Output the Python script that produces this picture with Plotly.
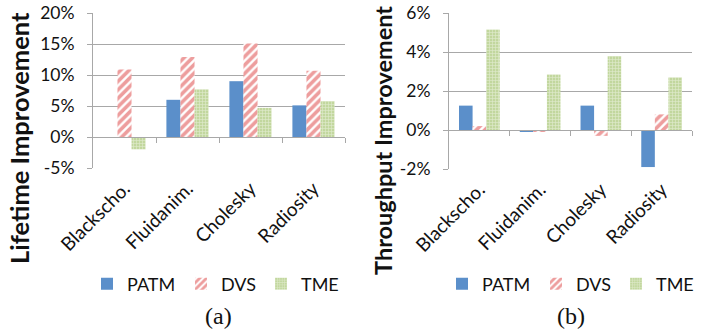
import plotly.graph_objects as go

W, H = 703, 331
categories = ["Blackscho.", "Fluidanim.", "Cholesky", "Radiosity"]
series = ["PATM", "DVS", "TME"]
lifetime_patm = [0.0, 6.0, 9.0, 5.1]
lifetime_dvs = [10.9, 12.9, 15.1, 10.7]
lifetime_tme = [-2.0, 7.7, 4.7, 5.8]
thr_patm = [1.25, -0.1, 1.25, -1.9]
thr_dvs = [0.2, -0.08, -0.3, 0.8]
thr_tme = [5.15, 2.85, 3.8, 2.7]
lifetime_ticks = [-5, 0, 5, 10, 15, 20]
thr_ticks = [-2, 0, 2, 4, 6]

BLUE = "#5b8fca"
RED = "#dc3c3c"
GREEN = "#c2d79e"
GRID = "#a8a8a8"
FONT = "Lato"

def px_x(x):
    return x / W

def px_y(y):
    return (H - y) / H

styles = {
    "PATM": dict(color=BLUE),
    "DVS": dict(color="white", pattern=dict(shape="/", fgcolor=RED, bgcolor="white", size=6, solidity=0.6, fillmode="overlay")),
    "TME": dict(color="white", pattern=dict(shape="+", fgcolor="white", bgcolor=GREEN, size=3, solidity=0.35, fillmode="overlay")),
}
legend_widths = {"PATM": 49, "DVS": 35, "TME": None}

fig = go.Figure()
left = [lifetime_patm, lifetime_dvs, lifetime_tme]
right = [thr_patm, thr_dvs, thr_tme]
for name, vals in zip(series, left):
    fig.add_trace(go.Bar(x=categories, y=vals, name=name, marker=dict(**styles[name], line=dict(width=0)),
                         xaxis="x", yaxis="y", legend="legend", legendwidth=legend_widths[name]))
for name, vals in zip(series, right):
    fig.add_trace(go.Bar(x=categories, y=vals, name=name, marker=dict(**styles[name], line=dict(width=0)),
                         xaxis="x2", yaxis="y2", legend="legend2", legendwidth=legend_widths[name]))

ldom_x = [px_x(93), px_x(345)]
ldom_y = [px_y(168), px_y(13)]
rdom_x = [px_x(449), px_x(692)]
rdom_y = [px_y(169), px_y(13)]
lrange = [-5, 20]
rrange = [-2, 6]

def zero_pos(dom, rng):
    return dom[0] + (0 - rng[0]) / (rng[1] - rng[0]) * (dom[1] - dom[0])

tickfont = dict(family=FONT, size=17.5, color="#111")
catfont = dict(family=FONT, size=19, color="#111")
xcommon = dict(type="category", showline=False, showgrid=False, ticks="outside", ticklen=1,
               tickcolor="rgba(0,0,0,0)", tickangle=-45, tickfont=catfont, range=[-0.5, 3.5],
               automargin=False)
ycommon = dict(showline=True, linecolor=GRID, linewidth=1, showgrid=True, gridcolor=GRID, gridwidth=1,
               zeroline=False, ticks="outside", ticklen=5, tickcolor=GRID,
               tickfont=tickfont, ticklabelstandoff=9, automargin=False)
ovx = dict(type="linear", range=[-0.5, 3.5], showline=True, linecolor=GRID, linewidth=1,
           ticks="outside", ticklen=5, tickcolor=GRID, tickvals=[0.5, 1.5, 2.5, 3.5],
           showticklabels=False, showgrid=False, zeroline=False, anchor="free", side="bottom",
           automargin=False)

legfont = dict(family=FONT, size=18, color="#111")
fig.update_layout(
    width=W, height=H, margin=dict(l=0, r=0, t=0, b=0, autoexpand=False),
    paper_bgcolor="white", plot_bgcolor="white",
    barmode="group", bargap=0.33, bargroupgap=0,
    xaxis=dict(domain=ldom_x, anchor="y", **xcommon),
    yaxis=dict(domain=ldom_y, anchor="x", range=lrange, tickvals=lifetime_ticks,
               ticktext=[f"{v}%" for v in lifetime_ticks], **ycommon),
    xaxis2=dict(domain=rdom_x, anchor="y2", **xcommon),
    yaxis2=dict(domain=rdom_y, anchor="x2", range=rrange, tickvals=thr_ticks,
                ticktext=[f"{v}%" for v in thr_ticks], **ycommon),
    xaxis3=dict(domain=ldom_x, overlaying="x", position=zero_pos(ldom_y, lrange), **ovx),
    xaxis4=dict(domain=rdom_x, overlaying="x2", position=zero_pos(rdom_y, rrange), **ovx),
    legend=dict(orientation="h", x=px_x(87), y=px_y(284), xanchor="left", yanchor="middle",
                font=legfont, bgcolor="rgba(0,0,0,0)"),
    legend2=dict(orientation="h", x=px_x(442), y=px_y(284), xanchor="left", yanchor="middle",
                 font=legfont, bgcolor="rgba(0,0,0,0)"),
    annotations=[
        dict(text="<b>Lifetime Improvement</b>", textangle=-90, x=px_x(19), y=px_y(138), xref="paper", yref="paper",
             xanchor="center", yanchor="middle", showarrow=False, font=dict(family=FONT, size=25.5, color="#111")),
        dict(text="<b>Throughput Improvement</b>", textangle=-90, x=px_x(383), y=px_y(141), xref="paper", yref="paper",
             xanchor="center", yanchor="middle", showarrow=False, font=dict(family=FONT, size=23.5, color="#111")),
        dict(text="(a)", x=px_x(218), y=px_y(316), xref="paper", yref="paper", showarrow=False,
             xanchor="center", yanchor="middle", font=dict(family="Liberation Serif", size=24, color="#111")),
        dict(text="(b)", x=px_x(571), y=px_y(316), xref="paper", yref="paper", showarrow=False,
             xanchor="center", yanchor="middle", font=dict(family="Liberation Serif", size=24, color="#111")),
    ],
)
fig.add_trace(go.Scatter(x=[], y=[], xaxis="x3", yaxis="y", showlegend=False))
fig.add_trace(go.Scatter(x=[], y=[], xaxis="x4", yaxis="y2", showlegend=False))
fig.write_html("out.html")
